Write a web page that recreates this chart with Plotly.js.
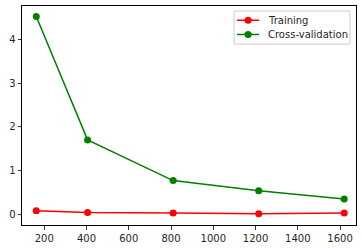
<!DOCTYPE html>
<html>
<head>
<meta charset="utf-8">
<script src="https://cdn.plot.ly/plotly-3.0.1.min.js"></script>
<style>html,body{margin:0;padding:0;background:#fff;}#chart{width:362px;height:248px;}</style>
</head>
<body>
<div id="chart"></div>
<script>
const trainSizes = [162, 405, 810, 1215, 1620];
const trainingError = [0.08, 0.04, 0.03, 0.01, 0.03];
const cvError = [4.52, 1.70, 0.77, 0.54, 0.35];
const seriesNames = ["Training", "Cross-validation"];
const seriesColors = ["#ff0000", "#008000"];
const xTicks = [200, 400, 600, 800, 1000, 1200, 1400, 1600];
const yTicks = [0, 1, 2, 3, 4];

const traces = [
  {x: trainSizes, y: trainingError, name: seriesNames[0], mode: "lines+markers",
   line: {color: seriesColors[0], width: 1.5}, marker: {color: seriesColors[0], size: 7}},
  {x: trainSizes, y: cvError, name: seriesNames[1], mode: "lines+markers",
   line: {color: seriesColors[1], width: 1.5}, marker: {color: seriesColors[1], size: 7}}
];
const axisCommon = {
  showgrid: false, zeroline: false, showline: true, linecolor: "#000", linewidth: 1,
  mirror: true, ticks: "outside", ticklen: 3.5, tickwidth: 0.8, tickcolor: "#000",
  tickfont: {family: "DejaVu Sans", size: 10, color: "#262626"}
};

// custom legend (matplotlib-style compact legend)
const shapes = [{type: "rect", xref: "paper", yref: "paper", x0: 0.635, x1: 0.982, y0: 0.826, y1: 0.977,
  fillcolor: "rgba(255,255,255,0.8)", line: {color: "#cccccc", width: 1}, layer: "above"}];
const annotations = [];
const rowY = [0.935, 0.870];
seriesNames.forEach((n, i) => {
  shapes.push({type: "line", xref: "paper", yref: "paper", x0: 0.644, x1: 0.710, y0: rowY[i], y1: rowY[i],
    line: {color: seriesColors[i], width: 1.5}, layer: "above"});
  shapes.push({type: "circle", xref: "paper", yref: "paper", xsizemode: "pixel", ysizemode: "pixel",
    xanchor: 0.677, yanchor: rowY[i], x0: -3.5, x1: 3.5, y0: -3.5, y1: 3.5,
    fillcolor: seriesColors[i], line: {color: seriesColors[i], width: 0}, layer: "above"});
  annotations.push({xref: "paper", yref: "paper", x: 0.731, y: rowY[i], xanchor: "left", yanchor: "middle",
    text: n, showarrow: false, font: {family: "DejaVu Sans", size: 10, color: "#262626"}});
});

const layout = {
  width: 362, height: 248,
  margin: {l: 22, r: 6, t: 6, b: 23},
  paper_bgcolor: "#fff", plot_bgcolor: "#fff",
  font: {family: "DejaVu Sans", size: 10, color: "#262626"},
  xaxis: Object.assign({}, axisCommon, {range: [94.5, 1675.7], tickvals: xTicks}),
  yaxis: Object.assign({}, axisCommon, {range: [-0.245, 4.76], tickvals: yTicks}),
  showlegend: false,
  shapes: shapes,
  annotations: annotations
};
Plotly.newPlot("chart", traces, layout, {staticPlot: true, displayModeBar: false});
</script>
</body>
</html>
